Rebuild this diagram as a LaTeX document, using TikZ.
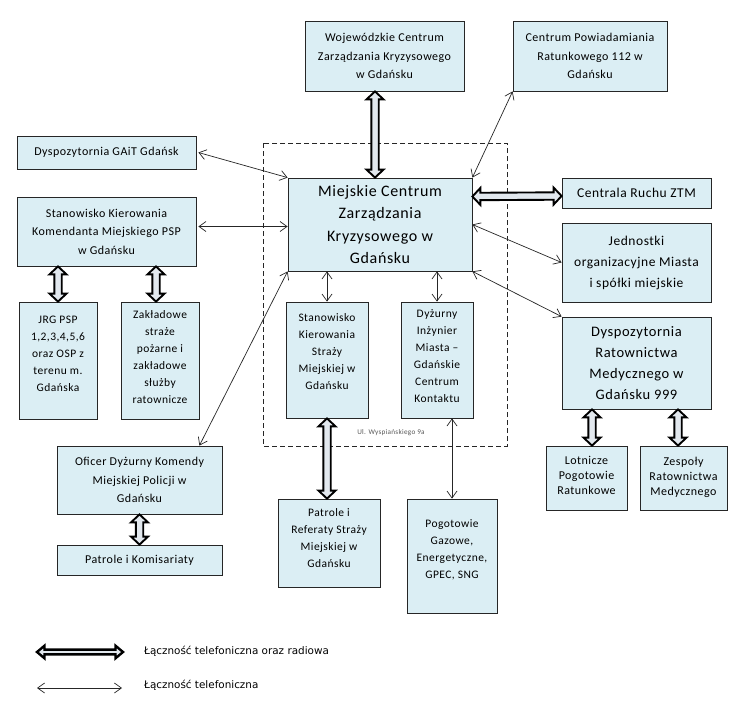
\documentclass[tikz,border=0pt]{standalone}
\usepackage{fontspec}
\setmainfont{Carlito}[LetterSpace=4.0]
\newfontfamily\legfont{DejaVu Sans}
\usetikzlibrary{calc,arrows.meta}
\definecolor{boxfill}{HTML}{DBEEF4}
\definecolor{arrfill}{HTML}{E2E8EE}
\def\fH{8.5pt}
\def\fS{3.7pt}
\def\fL{8pt}
\begin{document}
\begin{tikzpicture}[x=1pt,y=-1pt,
  box/.style={draw=black!85, line width=0.8pt, fill=boxfill, inner sep=0pt, align=center},
  fa/.style={font=\fontsize{12}{18.5}\selectfont},
  fmain/.style={font=\fontsize{16}{22.5}\selectfont},
  fmid/.style={font=\fontsize{13.5}{21}\selectfont},
  fdrm/.style={font=\fontsize{14.5}{21}\selectfont},
  fnar/.style={font=\fontsize{11.5}{17}\selectfont},
  flot/.style={font=\fontsize{12}{15}\selectfont},
  thin/.style={draw=black!85, line width=0.7pt, {Straight Barb[length=7pt,width=10pt]}-{Straight Barb[length=7pt,width=10pt]}},
  fat/.style={draw=black, line width=1.9pt, fill=arrfill, line join=miter,
    to path={-- ($(\tikztostart)!\fL!(\tikztotarget)!\fH!90:(\tikztotarget)$)
      -- ($(\tikztostart)!\fL!(\tikztotarget)!\fS!90:(\tikztotarget)$)
      -- ($(\tikztotarget)!\fL!(\tikztostart)!\fS!-90:(\tikztostart)$)
      -- ($(\tikztotarget)!\fL!(\tikztostart)!\fH!-90:(\tikztostart)$)
      -- (\tikztotarget)
      -- ($(\tikztotarget)!\fL!(\tikztostart)!\fH!90:(\tikztostart)$)
      -- ($(\tikztotarget)!\fL!(\tikztostart)!\fS!90:(\tikztostart)$)
      -- ($(\tikztostart)!\fL!(\tikztotarget)!\fS!-90:(\tikztotarget)$)
      -- ($(\tikztostart)!\fL!(\tikztotarget)!\fH!-90:(\tikztotarget)$)
      -- cycle}}
]
\useasboundingbox (0,0) rectangle (743,717);
\fill[white] (0,0) rectangle (743,717);
% dashed area
\draw[black!85, line width=0.7pt, dash pattern=on 5pt off 3pt] (263,143) rectangle (507,446);
\node[text=black!65, font=\fontsize{7.2}{8}\selectfont] (addr) at (391,433) {Ul. Wyspiańskiego 9a};
% boxes
\node[box, fa, minimum width=159, minimum height=70] (woj) at (384.5,56) {Wojewódzkie Centrum\\Zarządzania Kryzysowego\\w Gdańsku};
\node[box, fa, minimum width=154, minimum height=70] (cpr) at (590,56) {Centrum Powiadamiania\\Ratunkowego 112 w\\Gdańsku};
\node[box, fa, minimum width=179, minimum height=33] (gait) at (106.5,152.5) {Dyspozytornia GAiT Gdańsk};
\node[box, fa, minimum width=179, minimum height=69] (kom) at (106.5,231.5) {Stanowisko Kierowania\\Komendanta Miejskiego PSP\\w Gdańsku};
\node[box, fmain, minimum width=184, minimum height=93] (main) at (380,224.5) {Miejskie Centrum\\Zarządzania\\Kryzysowego w\\Gdańsku};
\node[box, fmid, minimum width=149, minimum height=30] (ztm) at (636.5,193) {Centrala Ruchu ZTM};
\node[box, fmid, minimum width=149, minimum height=79] (jed) at (636.5,262.5) {Jednostki\\organizacyjne Miasta\\i spółki miejskie};
\node[box, fdrm, minimum width=149, minimum height=92] (drm) at (636.5,363) {Dyspozytornia\\Ratownictwa\\Medycznego w\\Gdańsku 999};
\node[box, flot, minimum width=81, minimum height=64] (lot) at (586.5,478) {Lotnicze\\Pogotowie\\Ratunkowe\\[-10pt]\mbox{}};
\node[box, flot, minimum width=87, minimum height=64] (zes) at (683.5,478) {Zespoły\\Ratownictwa\\Medycznego\\[-11pt]\mbox{}};
\node[box, fnar, minimum width=78, minimum height=117] (jrg) at (58,360.5) {JRG PSP\\1,2,3,4,5,6\\oraz OSP z\\terenu m.\\Gdańska\\[-3pt]\mbox{}};
\node[box, fnar, minimum width=78, minimum height=117] (zak) at (160,360.5) {Zakładowe\\straże\\pożarne i\\zakładowe\\służby\\ratownicze\\[-10pt]\mbox{}};
\node[box, fnar, minimum width=82, minimum height=116] (sm) at (327,360) {Stanowisko\\Kierowania\\Straży\\Miejskiej w\\Gdańsku\\[-1pt]\mbox{}};
\node[box, fnar, minimum width=72, minimum height=116] (dyz) at (437,360) {Dyżurny\\Inżynier\\Miasta –\\Gdańskie\\Centrum\\Kontaktu\\[-9pt]\mbox{}};
\node[box, fa, minimum width=165, minimum height=68] (ofc) at (139.5,480) {Oficer Dyżurny Komendy\\Miejskiej Policji w\\Gdańsku};
\node[box, fa, minimum width=165, minimum height=30] (pk) at (139.5,560) {Patrole i Komisariaty};
\node[box, fnar, minimum width=102, minimum height=88] (pr) at (329,543) {Patrole i\\Referaty Straży\\Miejskiej w\\Gdańsku\\[-7pt]\mbox{}};
\node[box, fnar, minimum width=90, minimum height=114] (pog) at (452,556) {Pogotowie\\Gazowe,\\Energetyczne,\\GPEC, SNG\\[-4pt]\mbox{}};
% thick connectors
\draw[fat] ([xshift=-9.5pt]woj.south) to ([xshift=-5pt]main.north);
\draw[fat] ([yshift=28pt]main.east) to ([yshift=-3pt]ztm.west);
\draw[fat] (kom.south -| jrg.north) to (jrg.north);
\draw[fat] ([xshift=-4pt]kom.south -| zak.north) to ([xshift=-4pt]zak.north);
\draw[fat] (sm.south) to (pr.north -| sm.south);
\draw[fat] (ofc.south) to (pk.north);
\draw[fat] ([xshift=5.5pt]drm.south -| lot.north) to ([xshift=5.5pt]lot.north);
\draw[fat] ([xshift=-5.5pt]drm.south -| zes.north) to ([xshift=-5.5pt]zes.north);
% thin connectors
\draw[thin] ([xshift=2pt]gait.east) -- (main.north west);
\draw[thin] ([xshift=2pt,yshift=5pt]kom.east) -- ([yshift=5pt]kom.east -| main.west);
\draw[thin] (main.south west) -- ([xshift=-23pt]ofc.north east);
\draw[thin] (main.south -| sm.north) -- (sm.north);
\draw[thin] (main.south -| dyz.north) -- (dyz.north);
\draw[thin] (dyz.south -| pog.north) -- (pog.north);
\draw[thin] (main.north east) -- (cpr.south west);
\draw[thin] (main.east) -- (jed.west);
\draw[thin] (main.south east) -- (drm.north west);
% legend
\coordinate (la1) at (37,652);
\coordinate (la2) at (123,652);
\coordinate (lb1) at (37,688);
\coordinate (lb2) at (122,688);
\begin{scope}
\def\fH{6.3pt}\def\fS{2.4pt}\def\fL{7.5pt}
\draw[fat, line width=2.4pt] (la1) to (la2);
\end{scope}
\draw[thin] (lb1) -- (lb2);
\node[anchor=west, inner sep=0pt, font=\legfont\fontsize{10.4}{12}\selectfont] (lta) at (144,651) {Łączność telefoniczna oraz radiowa};
\node[anchor=west, inner sep=0pt, font=\legfont\fontsize{10.4}{12}\selectfont] (ltb) at (144,685) {Łączność telefoniczna};
\end{tikzpicture}
\end{document}
